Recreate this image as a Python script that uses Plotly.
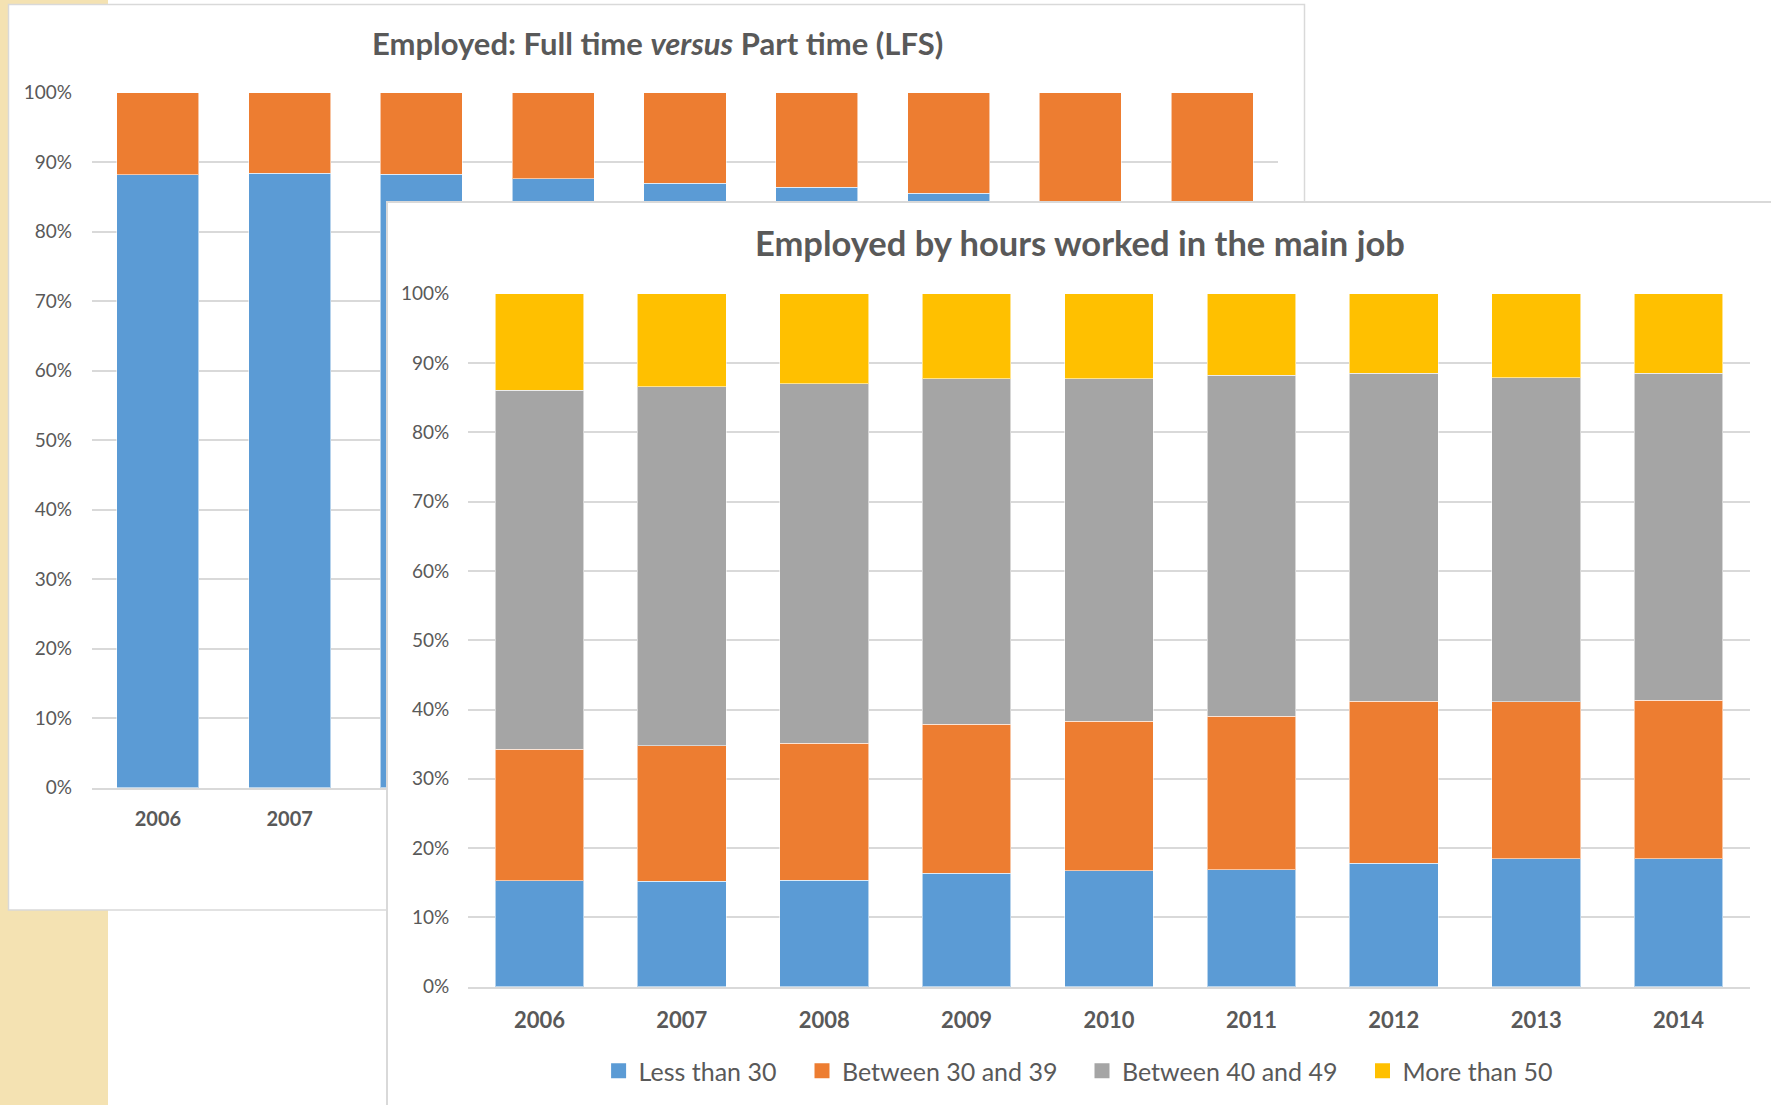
import plotly.graph_objects as go

# ---- data -------------------------------------------------------------
years = ["2006", "2007", "2008", "2009", "2010", "2011", "2012", "2013", "2014"]

# Full time vs part time (share of employed, %)
full_time = [88.2, 88.4, 88.3, 87.6, 87.0, 86.4, 85.5, 83.8, 83.5]
part_time = [11.8, 11.6, 11.7, 12.4, 13.0, 13.6, 14.5, 16.2, 16.5]

# Hours worked in the main job (share of employed, %)
less_30 = [15.3, 15.25, 15.35, 16.4, 16.7, 16.9, 17.85, 18.5, 18.5]
between_30_39 = [19.0, 19.55, 19.75, 21.5, 21.6, 22.1, 23.35, 22.6, 22.8]
between_40_49 = [51.8, 51.8, 51.9, 49.8, 49.4, 49.2, 47.3, 46.8, 47.2]
more_50 = [13.9, 13.4, 13.0, 12.3, 12.3, 11.8, 11.5, 12.1, 11.5]

y_ticks = [0, 10, 20, 30, 40, 50, 60, 70, 80, 90, 100]
y_tick_text = [f"{v}%" for v in y_ticks]

# ---- styling ----------------------------------------------------------
W, H = 1771, 1105
FONT = "Lato"
TEXT = "#595959"
GRID = "#d9d9d9"
BLUE, ORANGE, GREY, YELLOW = "#5B9BD5", "#ED7D31", "#A5A5A5", "#FFC000"
EDGE = dict(color="rgba(255,255,255,0.55)", width=1)


def px_x(p):
    return p / W


def px_y(p):
    return 1 - p / H


fig = go.Figure()

# back chart: full time versus part time
for name, vals, col in [("Full time", full_time, BLUE), ("Part time", part_time, ORANGE)]:
    fig.add_trace(go.Bar(x=years, y=vals, name=name, marker=dict(color=col, line=EDGE),
                         xaxis="x", yaxis="y", showlegend=False))

# empty trace so the panel subplot of the front chart exists and hides the back chart
fig.add_trace(go.Scatter(x=[], y=[], xaxis="x2", yaxis="y2", showlegend=False,
                         hoverinfo="skip"))

# front chart: hours worked in the main job, one legend per entry
front_series = [("Less than 30", less_30, BLUE, "legend", 638.6),
                ("Between 30 and 39", between_30_39, ORANGE, "legend2", 842),
                ("Between 40 and 49", between_40_49, GREY, "legend3", 1122),
                ("More than 50", more_50, YELLOW, "legend4", 1402.5)]
for name, vals, col, leg, _ in front_series:
    fig.add_trace(go.Bar(x=years, y=vals, name=name, marker=dict(color=col, line=EDGE),
                         xaxis="x3", yaxis="y3", legendgroup=name, showlegend=False))
    # legend key: a larger square swatch for the same group
    fig.add_trace(go.Scatter(x=[None], y=[None], name=name, mode="markers",
                             marker=dict(symbol="square", size=15, color=col),
                             xaxis="x3", yaxis="y3", legendgroup=name, legend=leg,
                             hoverinfo="skip"))

yaxis_common = dict(range=[0, 100], tickvals=y_ticks, ticktext=y_tick_text,
                    showgrid=True, gridcolor=GRID, gridwidth=1.5, zeroline=False,
                    ticks="", tickfont=dict(family=FONT, size=19, color=TEXT),
                    fixedrange=True, automargin=False)

legend_layouts = {}
for name, vals, col, leg, text_x in front_series:
    legend_layouts[leg] = dict(orientation="h", xanchor="left", x=px_x(text_x - 40),
                               yanchor="middle", y=px_y(1071),
                               font=dict(family=FONT, size=25, color=TEXT),
                               bgcolor="rgba(0,0,0,0)")

fig.update_layout(
    width=W, height=H,
    margin=dict(l=0, r=0, t=0, b=0, autoexpand=False),
    paper_bgcolor="white", plot_bgcolor="white",
    barmode="stack", bargap=0.377,
    font=dict(family=FONT, color=TEXT),
    # back chart axes
    xaxis=dict(domain=[px_x(92), px_x(1278)], anchor="y", type="category",
               showline=True, linecolor=GRID, linewidth=2, ticks="",
               tickfont=dict(family=FONT, size=20, color=TEXT, weight="bold"),
               ticklabelstandoff=12, fixedrange=True, automargin=False),
    yaxis=dict(domain=[px_y(787.7), px_y(92.7)], anchor="x", ticklabelstandoff=19,
               **yaxis_common),
    # panel of the front chart (covers the back chart)
    xaxis2=dict(domain=[px_x(388), 1], anchor="y2", side="top", range=[0, 1],
                showline=True, linecolor=GRID, linewidth=1.5, showgrid=False,
                zeroline=False, showticklabels=False, ticks="", fixedrange=True,
                automargin=False),
    yaxis2=dict(domain=[0, px_y(203)], anchor="x2", side="left", range=[0, 1],
                showline=True, linecolor=GRID, linewidth=1.5, showgrid=False,
                zeroline=False, showticklabels=False, ticks="", fixedrange=True,
                automargin=False),
    # front chart axes
    xaxis3=dict(domain=[px_x(468.2), px_x(1749.8)], anchor="y3", type="category",
                showline=True, linecolor=GRID, linewidth=2, ticks="",
                tickfont=dict(family=FONT, size=22, color=TEXT, weight="bold"),
                ticklabelstandoff=13, fixedrange=True, automargin=False),
    yaxis3=dict(domain=[px_y(986.7), px_y(293.7)], anchor="x3", ticklabelstandoff=18,
                **yaxis_common),
    shapes=[
        # patterned strip on the left edge of the slide
        dict(type="rect", xref="paper", yref="paper", x0=0, x1=px_x(108), y0=0, y1=1,
             fillcolor="#F4E2B2", line=dict(width=0), layer="below"),
        # panel of the back chart
        dict(type="rect", xref="paper", yref="paper", x0=px_x(8.5), x1=px_x(1304.5),
             y0=px_y(910), y1=px_y(4.5), fillcolor="white",
             line=dict(color=GRID, width=1.5), layer="below"),
    ],
    annotations=[
        dict(text="<b>Employed: Full time <i>versus</i> Part time (LFS)</b>",
             xref="paper", yref="paper", x=px_x(657), y=px_y(43.5),
             xanchor="center", yanchor="middle", showarrow=False,
             font=dict(family=FONT, size=31, color=TEXT)),
        dict(text="<b>Employed by hours worked in the main job</b>",
             xref="paper", yref="paper", x=px_x(1080), y=px_y(242),
             xanchor="center", yanchor="middle", showarrow=False,
             font=dict(family=FONT, size=34.5, color=TEXT)),
    ],
    **legend_layouts,
)

fig.write_html("out.html")
